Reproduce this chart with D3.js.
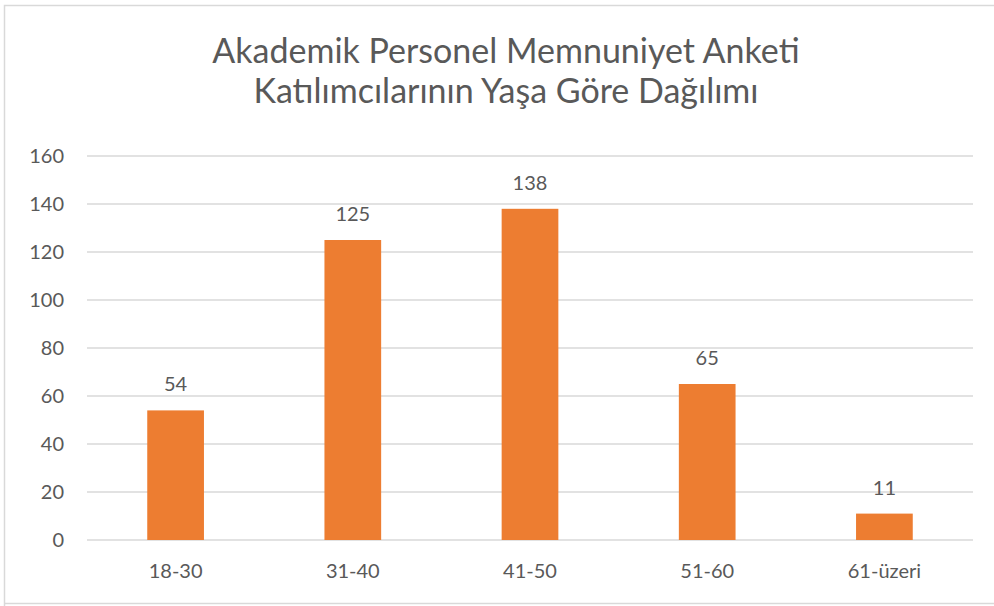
<!DOCTYPE html>
<html>
<head>
<meta charset="utf-8">
<script src="https://cdn.jsdelivr.net/npm/d3@7"></script>
<style>
    body { margin: 0; background: #fff; }
    text { font-family: Lato, "Open Sans", sans-serif; fill: #595959; }
</style>
</head>
<body>
<div id="chart-area"></div>
<script>
const categories = ["18-30", "31-40", "41-50", "51-60", "61-üzeri"];
const values = [54, 125, 138, 65, 11];
const yTicks = [0, 20, 40, 60, 80, 100, 120, 140, 160];
const titleLines = ["Akademik Personel Memnuniyet Anketi", "Katılımcılarının Yaşa Göre Dağılımı"];

const margin = { top: 156, right: 21, bottom: 66, left: 87 };
const width = 994 - margin.left - margin.right;
const height = 606 - margin.top - margin.bottom;

const svg = d3
    .select("#chart-area")
    .append("svg")
    .attr("width", 994)
    .attr("height", 606);

// chart border
svg.append("path")
    .attr("d", "M4.5,606 L4.5,5.5 L994,5.5 M4.5,603.5 L994,603.5")
    .attr("fill", "none")
    .attr("stroke", "#d9d9d9")
    .attr("stroke-width", 1.5);

// Title
svg.append("g")
    .selectAll("text")
    .data(titleLines)
    .enter()
    .append("text")
    .attr("x", 506)
    .attr("y", (d, i) => 63 + i * 40)
    .attr("text-anchor", "middle")
    .attr("font-size", "34px")
    .text((d) => d);

const g = svg
    .append("g")
    .attr("transform", `translate(${margin.left}, ${margin.top})`);

//Scales
const xScale = d3.scaleBand().domain(categories).range([0, width]).paddingInner(0.68).paddingOuter(0.34);
const yScale = d3.scaleLinear().domain([0, 160]).range([height, 0]);

// Grid
g.append("g")
    .selectAll("line")
    .data(yTicks)
    .enter()
    .append("line")
    .attr("x1", 0)
    .attr("x2", width)
    .attr("y1", (d) => yScale(d))
    .attr("y2", (d) => yScale(d))
    .attr("stroke", "#d9d9d9")
    .attr("stroke-width", 1.5);

//Axes
const yAxisCall = d3.axisLeft(yScale).tickValues(yTicks).tickSize(0).tickPadding(23);
const yAxis = g.append("g").attr("class", "y-axis").call(yAxisCall);
yAxis.select(".domain").remove();
yAxis.selectAll("text").attr("font-size", "20px").attr("font-family", null).attr("fill", null);

const xAxisCall = d3.axisBottom(xScale).tickSize(0).tickPadding(24);
const xAxis = g.append("g")
    .attr("class", "x-axis")
    .attr("transform", `translate(0, ${height})`)
    .call(xAxisCall);
xAxis.select(".domain").remove();
xAxis.selectAll("text").attr("font-size", "20px").attr("font-family", null).attr("fill", null);

// Bars
g.selectAll("rect.bar")
    .data(values)
    .enter()
    .append("rect")
    .attr("class", "bar")
    .attr("x", (d, i) => xScale(categories[i]))
    .attr("y", (d) => yScale(d))
    .attr("width", xScale.bandwidth())
    .attr("height", (d) => height - yScale(d))
    .attr("fill", "#ed7d31");

// Labels
g.selectAll("text.value")
    .data(values)
    .enter()
    .append("text")
    .attr("class", "value")
    .attr("x", (d, i) => xScale(categories[i]) + xScale.bandwidth() / 2)
    .attr("y", (d) => yScale(d) - 19)
    .attr("text-anchor", "middle")
    .attr("font-size", "20px")
    .text((d) => d);
</script>
</body>
</html>
